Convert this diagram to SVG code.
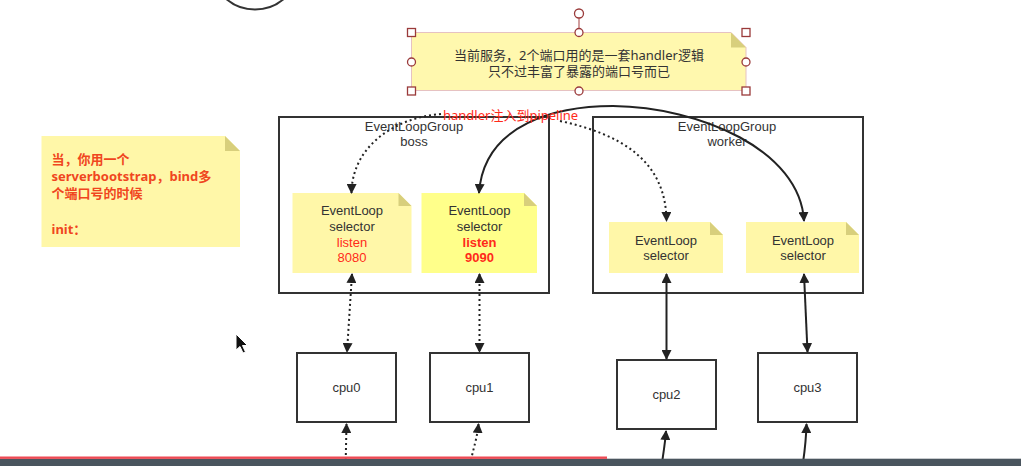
<svg xmlns="http://www.w3.org/2000/svg" width="1021" height="466" viewBox="0 0 1021 466">
<defs>
<style>
.txt{font-family:"Liberation Sans","Noto Sans CJK SC",sans-serif;font-size:13px;fill:#333;text-anchor:middle}
.cjk{font-family:"Noto Sans","Noto Sans CJK SC",sans-serif}
.red{fill:#ff2a1a}
.b{font-weight:bold}
.box{fill:#fff;stroke:#333;stroke-width:2}
.grp{fill:none;stroke:#333;stroke-width:2}
.note{fill:#fff7a8}
.note2{fill:#ffff8a}
.fold{fill:#d8cf7c}
.ln{fill:none;stroke:#222;stroke-width:2}
.dot{fill:none;stroke:#222;stroke-width:2;stroke-dasharray:2 3}
.hsq{fill:#fff;stroke:#9a3a3a;stroke-width:1.3}
</style>
<marker id="ah" viewBox="0 0 10 10" refX="9" refY="5" markerWidth="10" markerHeight="10" markerUnits="userSpaceOnUse" orient="auto-start-reverse">
<path d="M0,0 L10,5 L0,10 z" fill="#222"/>
</marker>
</defs>
<rect width="1021" height="466" fill="#fff"/>

<g id="circle-top"><circle cx="255" cy="-35" r="44.5" fill="none" stroke="#333" stroke-width="2"/></g>

<g id="note-top">
<path d="M411.5,32.5 H731 L746,47.5 V90.5 H411.5 Z" fill="#fff8ae" stroke="#e6c2c2" stroke-width="1"/>
<path d="M731,32.5 L746,47.5 H731 Z" class="fold"/>
<text class="txt cjk" x="579" y="59.5">当前服务，2个端口用的是一套handler逻辑</text>
<text class="txt cjk" x="579" y="76">只不过丰富了暴露的端口号而已</text>
<line x1="579" y1="17.5" x2="579" y2="28.5" stroke="#b86a6a" stroke-width="1.3"/>
<circle cx="579" cy="13.5" r="4.5" class="hsq"/>
<rect x="407.5" y="28.5" width="8" height="8" class="hsq"/>
<rect x="742" y="28.5" width="8" height="8" class="hsq"/>
<rect x="407.5" y="87" width="8" height="8" class="hsq"/>
<rect x="742" y="87" width="8" height="8" class="hsq"/>
<circle cx="579" cy="32.5" r="4" class="hsq"/>
<circle cx="579" cy="91" r="4" class="hsq"/>
<circle cx="411.5" cy="62" r="4" class="hsq"/>
<circle cx="746" cy="62" r="4" class="hsq"/>
</g>

<g id="note-left">
<path d="M41.5,136 H225 L240,151 V247 H41.5 Z" class="note"/>
<path d="M225,136 L240,151 H225 Z" class="fold"/>
<g font-family="Noto Sans, Noto Sans CJK SC, sans-serif" font-size="13" font-weight="bold" fill="#f0461e">
<text x="51.5" y="164">当，你用一个</text>
<text x="51.5" y="181">serverbootstrap，bind多</text>
<text x="51.5" y="198">个端口号的时候</text>
<text x="51.5" y="234">init：</text>
</g>
</g>

<g id="group-boss">
<rect x="279" y="117" width="270" height="176" class="grp"/>
<text class="txt" x="414" y="130.5">EventLoopGroup</text>
<text class="txt" x="414" y="146">boss</text>
</g>

<g id="group-worker">
<rect x="593" y="117" width="270" height="176" class="grp"/>
<text class="txt" x="727" y="130.5">EventLoopGroup</text>
<text class="txt" x="727" y="146">worker</text>
</g>

<g id="el-8080">
<path d="M292.5,193 H398.5 L411.5,206 V273 H292.5 Z" class="note"/>
<path d="M398.5,193 L411.5,206 H398.5 Z" class="fold"/>
<text class="txt" x="352" y="215">EventLoop</text>
<text class="txt" x="352" y="231">selector</text>
<text class="txt red" x="352" y="246.5">listen</text>
<text class="txt red" x="352" y="262">8080</text>
</g>

<g id="el-9090">
<path d="M421.5,193 H524 L537,206 V273 H421.5 Z" class="note2"/>
<path d="M524,193 L537,206 H524 Z" class="fold"/>
<text class="txt" x="479.5" y="215">EventLoop</text>
<text class="txt" x="479.5" y="231">selector</text>
<text class="txt red b" x="479.5" y="246.5">listen</text>
<text class="txt red b" x="479.5" y="262">9090</text>
</g>

<g id="el-w1">
<path d="M609,222 H710 L723,235 V273 H609 Z" class="note"/>
<path d="M710,222 L723,235 H710 Z" class="fold"/>
<text class="txt" x="666" y="244.5">EventLoop</text>
<text class="txt" x="666" y="260">selector</text>
</g>

<g id="el-w2">
<path d="M746,222 H846 L859,235 V273 H746 Z" class="note"/>
<path d="M846,222 L859,235 H846 Z" class="fold"/>
<text class="txt" x="803" y="244.5">EventLoop</text>
<text class="txt" x="803" y="260">selector</text>
</g>

<g id="cpu0"><rect x="297" y="353" width="99" height="69" class="box"/><text class="txt" x="346.5" y="392">cpu0</text></g>
<g id="cpu1"><rect x="430" y="353" width="99" height="69" class="box"/><text class="txt" x="479.5" y="392">cpu1</text></g>
<g id="cpu2"><rect x="617" y="360" width="99" height="69" class="box"/><text class="txt" x="666.5" y="399">cpu2</text></g>
<g id="cpu3"><rect x="758" y="353" width="99" height="69" class="box"/><text class="txt" x="807.5" y="392">cpu3</text></g>

<g id="connectors">
<path d="M441,114 C392,118 352,148 351.5,193" class="dot" marker-end="url(#ah)"/>
<path d="M560,121 C620,134 666,160 666.5,221" class="dot" marker-end="url(#ah)"/>
<path d="M479,193 C484,122 560,106 613,106 C700,107 800,150 804,221" class="ln" marker-start="url(#ah)" marker-end="url(#ah)"/>
<path d="M352,274 L347,352" class="dot" marker-start="url(#ah)" marker-end="url(#ah)"/>
<path d="M479.5,274 L479.5,352" class="dot" marker-start="url(#ah)" marker-end="url(#ah)"/>
<path d="M666.5,274 L666.5,359" class="ln" marker-start="url(#ah)" marker-end="url(#ah)"/>
<path d="M804,274 L807.5,352" class="ln" marker-start="url(#ah)" marker-end="url(#ah)"/>
<path d="M345.5,470 L346.5,424" class="dot" marker-end="url(#ah)"/>
<path d="M469,470 C472,452 477,440 478.5,424" class="dot" marker-end="url(#ah)"/>
<path d="M661,470 C663,455 665,445 666,431" class="ln" marker-end="url(#ah)"/>
<path d="M802,470 C804,455 806,445 806.5,424" class="ln" marker-end="url(#ah)"/>
<text x="443" y="120" font-family="Noto Sans, Noto Sans CJK SC, sans-serif" font-size="13" fill="#ff2a1a">handler注入到pipeline</text>
</g>

<g id="cursor"><path d="M236,334 L236,350 L240,346.5 L243,353 L245.5,352 L242.5,345.5 L247.5,345.5 Z" fill="#111" stroke="#fff" stroke-width="1"/></g>

<g id="statusbar">
<rect x="0" y="458.7" width="1021" height="8" fill="#4a555e"/>
<rect x="0" y="456.5" width="607" height="2.4" fill="#ee4b55"/>
</g>
</svg>
